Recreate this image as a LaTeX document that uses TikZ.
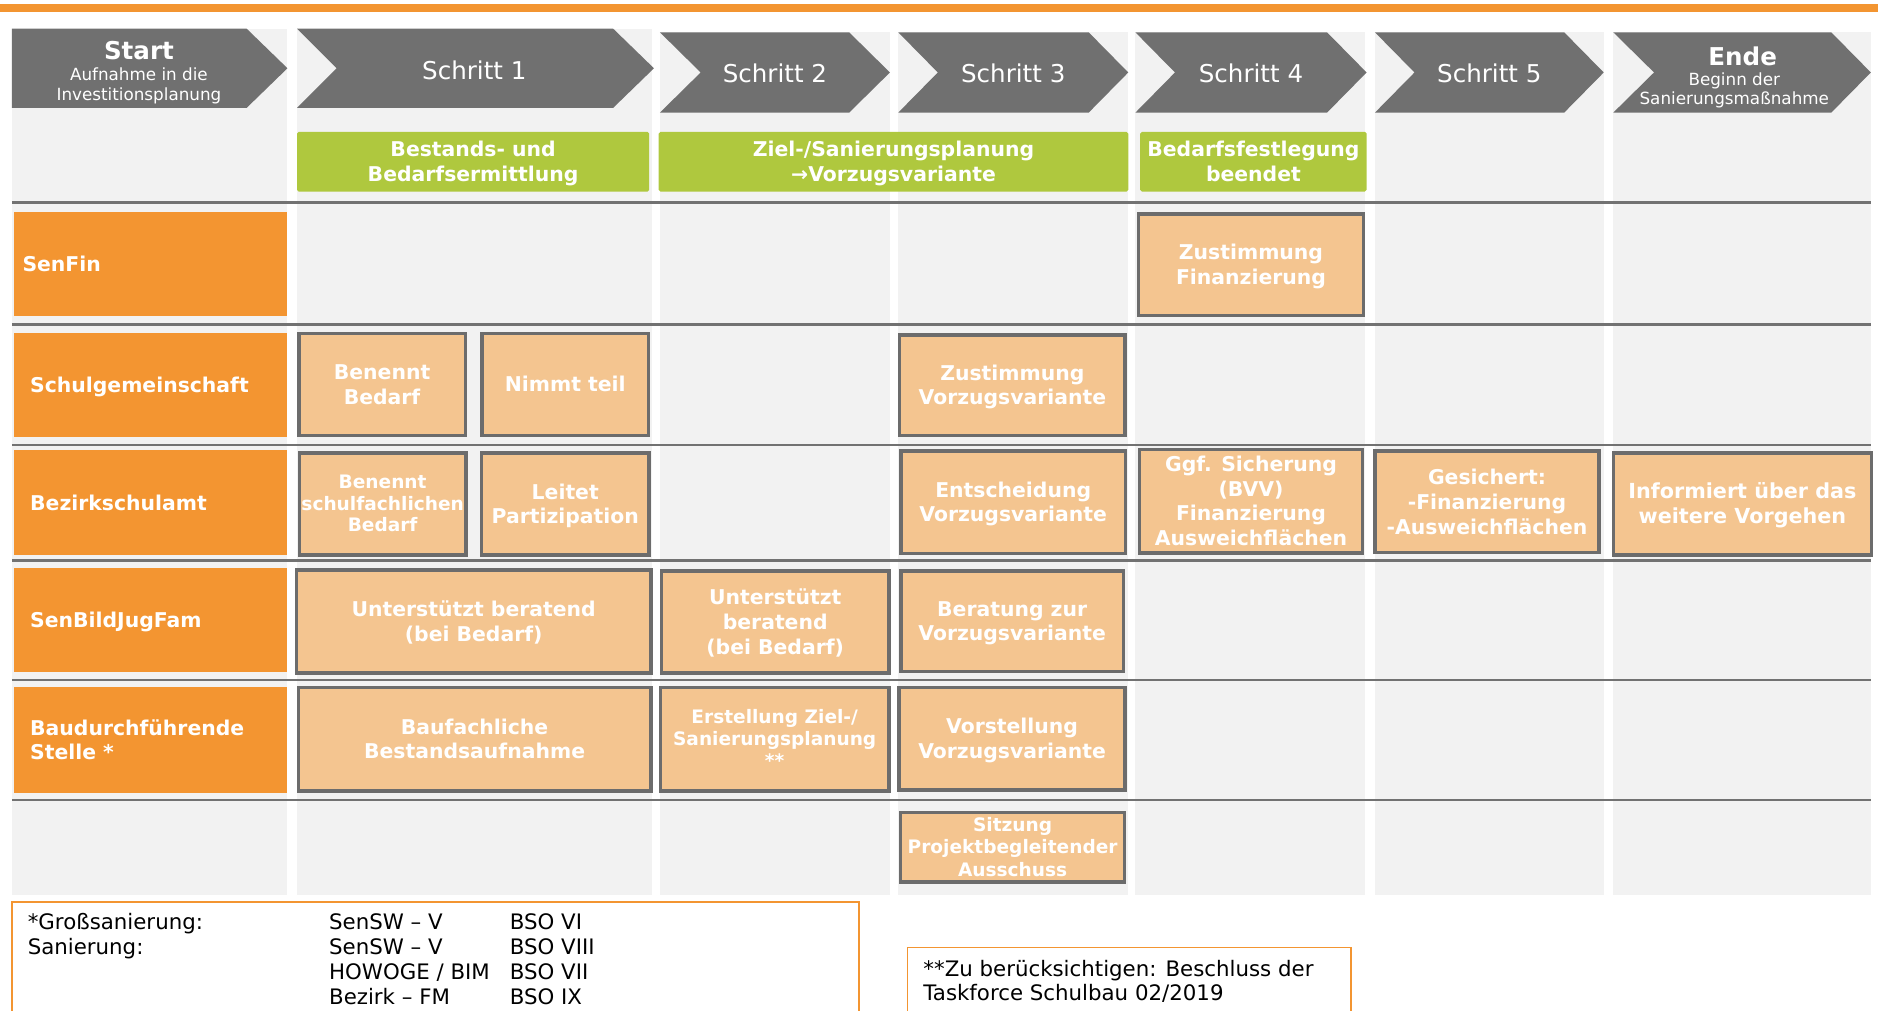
\documentclass[tikz,border=0pt]{standalone}
\usepackage{fontspec}
\setmainfont{DejaVu Sans}
\definecolor{barorange}{HTML}{F39531}
\definecolor{peach}{HTML}{F4C590}
\definecolor{boxline}{HTML}{6C6C6C}
\definecolor{chevgrey}{HTML}{707070}
\definecolor{limegreen}{HTML}{AFC83E}
\definecolor{colbg}{HTML}{F2F2F2}
\definecolor{sepline}{HTML}{727272}
\newcommand\fsz[2]{\fontsize{#1}{#2}\selectfont}
\newcommand\lns[2]{\begin{tabular}[t]{@{}#1@{}}#2\end{tabular}}
\newcommand\tbl[2]{\begin{tabular}[b]{@{}#1@{}}#2\end{tabular}}
% action box from outer corners (x1,y1)-(x2,y2)
\newcommand\abox[7][]{%
  \pgfmathsetmacro\abcx{(#3+#5)/2}%
  \pgfmathsetmacro\abcy{(#4+#6)/2}%
  \pgfmathsetmacro\abw{#5-#3-3}%
  \pgfmathsetmacro\abh{#6-#4-3}%
  \node[actbox,minimum width=\abw pt,minimum height=\abh pt,#1] (#2) at (\abcx,\abcy) {\tbl{c}{#7}};%
}
\begin{document}
\begin{tikzpicture}[x=1pt,y=-1pt,
  actbox/.style={draw=boxline,line width=3pt,fill=peach,text=white,
    font=\bfseries\fsz{17}{20.5},inner sep=0pt,text depth=2pt},
  smalltext/.style={font=\bfseries\fsz{15.5}{18}},
  lane/.style={fill=barorange,minimum width=228pt,inner sep=0pt},
  lanetext/.style={anchor=west,text=white,font=\bfseries\fsz{17}{20.5},
    inner sep=0pt,text depth=2pt},
  greenbox/.style={fill=limegreen,rounded corners=1.5pt,text=white,
    font=\bfseries\fsz{17}{20.5},inner sep=0pt,minimum height=50pt,
    text depth=2pt},
  chev/.style={fill=chevgrey},
  hdr/.style={text=white,font=\fsz{20.5}{24},anchor=base,inner sep=0pt},
  sep/.style={draw=sepline,line width=2pt},
  note/.style={draw=barorange,line width=1.5pt},
  notetext/.style={anchor=base west,inner sep=0pt,text=black,font=\fsz{17.8}{20.7}}
]
\useasboundingbox (0,0) rectangle (1568,844);
% top bar
\fill[barorange] (0,3) rectangle (1568,10);
% column backgrounds
\fill[colbg] (10,24) rectangle (240,747);
\fill[colbg] (248,24) rectangle (544,747);
\fill[colbg] (551,27) rectangle (743,747);
\fill[colbg] (750,27) rectangle (942,747);
\fill[colbg] (948,27) rectangle (1140,747);
\fill[colbg] (1148,27) rectangle (1339,747);
\fill[colbg] (1347,27) rectangle (1562,747);
% chevrons
\fill[chev] (10,24)--(206,24)--(240,57)--(206,90)--(10,90)--cycle;
\fill[chev] (248,24)--(512,24)--(546,57)--(512,90)--(248,90)--(281,57)--cycle;
\fill[chev] (551,27)--(709,27)--(743,60.5)--(709,94)--(551,94)--(585,60.5)--cycle;
\fill[chev] (750,27)--(909,27)--(942,60.5)--(909,94)--(750,94)--(783,60.5)--cycle;
\fill[chev] (948,27)--(1108,27)--(1141,60.5)--(1108,94)--(948,94)--(981,60.5)--cycle;
\fill[chev] (1148,27)--(1306,27)--(1339,60.5)--(1306,94)--(1148,94)--(1181,60.5)--cycle;
\fill[chev] (1347,27)--(1529,27)--(1562,60.5)--(1529,94)--(1347,94)--(1381,60.5)--cycle;
% header texts
\node[hdr,font=\bfseries\fsz{20.5}{24}] (start) at (116,49.5) {Start};
\node[hdr,font=\fsz{14}{16.2}] (startsub) at (116,67.3) {\lns{c}{Aufnahme in die\\Investitionsplanung}};
\node[hdr] (s1) at (396,66) {Schritt 1};
\node[hdr] (s2) at (647,69) {Schritt 2};
\node[hdr] (s3) at (846,69) {Schritt 3};
\node[hdr] (s4) at (1044.5,69) {Schritt 4};
\node[hdr] (s5) at (1243.5,69) {Schritt 5};
\node[hdr,font=\bfseries\fsz{20.5}{24}] (ende) at (1455,54.3) {Ende};
\node[hdr,font=\fsz{14}{16}] (endesub) at (1448,71) {\lns{c}{Beginn der\\Sanierungsmaßnahme}};
% separator lines
\foreach \yy in {169,271,371.5,468,567.5,668}
  \draw[sep] (10,\yy) -- (1562,\yy);
% green phase boxes
\node[greenbox,minimum width=294pt] (g1) at (395,135) {\tbl{c}{Bestands- und\\Bedarfsermittlung}};
\node[greenbox,minimum width=392pt] (g2) at (746,135) {\tbl{c}{Ziel-/Sanierungsplanung\\→Vorzugsvariante}};
\node[greenbox,minimum width=189pt] (g3) at (1046.5,135) {\tbl{c}{Bedarfsfestlegung\\beendet}};
% lanes
\node[lane,minimum height=87pt] (senfin) at (126,220.5) {};
\node[lane,minimum height=86.5pt] (schulg) at (126,321.25) {};
\node[lane,minimum height=87.5pt] (bezirk) at (126,419.75) {};
\node[lane,minimum height=86.5pt] (senbild) at (126,517.75) {};
\node[lane,minimum height=88pt] (baud) at (126,618) {};
\node[lanetext] (senfint) at (18.6,220.5) {\tbl{l}{SenFin}};
\node[lanetext] (schulgt) at (25,321.25) {\tbl{l}{Schulgemeinschaft}};
\node[lanetext] (bezirkt) at (25,419.75) {\tbl{l}{Bezirkschulamt}};
\node[lanetext] (senbildt) at (25,517.75) {\tbl{l}{SenBildJugFam}};
\node[lanetext] (baudt) at (25,618) {\tbl{l}{Baudurchführende\\Stelle *}};
% action boxes
\abox{zustfin}{949}{177}{1140}{265}{Zustimmung\\Finanzierung}
\abox{benbed}{248}{277}{390}{365}{Benennt\\Bedarf}
\abox{nimmt}{401}{277}{543}{365}{Nimmt teil}
\abox{zustvor}{749.5}{278}{941}{365}{Zustimmung\\Vorzugsvariante}
\abox[smalltext]{benschul}{248.5}{376.5}{390.5}{465}{Benennt\\schulfachlichen\\Bedarf}
\abox{leitet}{400.6}{376.5}{543.3}{465}{Leitet\\Partizipation}
\abox{entsch}{750.6}{375}{941.3}{463.5}{Entscheidung\\Vorzugsvariante}
\abox{ggf}{950}{373.7}{1139}{463.3}{Ggf. Sicherung\\(BVV)\\Finanzierung\\Ausweichflächen}
\abox[font=\bfseries\fsz{17}{21}]{gesich}{1146.6}{375}{1336.4}{462.7}{Gesichert:\\-Finanzierung\\-Ausweichflächen}
\abox[font=\bfseries\fsz{17.3}{21}]{inform}{1345.6}{376.5}{1564}{464.7}{Informiert über das\\weitere Vorgehen}
\abox[font=\bfseries\fsz{17}{21}]{unt1}{246}{474.4}{545}{563.5}{Unterstützt beratend\\(bei Bedarf)}
\abox[font=\bfseries\fsz{17}{21}]{unt2}{550.7}{475}{743.8}{563.5}{Unterstützt\\beratend\\(bei Bedarf)}
\abox{berat}{750.6}{475}{939.5}{562}{Beratung zur\\Vorzugsvariante}
\abox{baufach}{247.7}{572.6}{544.8}{661.7}{Baufachliche\\Bestandsaufnahme}
\abox[smalltext]{erst}{550}{572.6}{743.6}{661.7}{Erstellung Ziel-/\\Sanierungsplanung\\{}**}
\abox{vorst}{749}{572.6}{941}{661}{Vorstellung\\Vorzugsvariante}
\abox[font=\bfseries\fsz{15.5}{18.5}]{sitz}{750.4}{677}{940.5}{738}{Sitzung\\Projektbegleitender\\Ausschuss}
% footnotes
\draw[note] (10,844) -- (10,753) -- (717,753) -- (717,844);
\node[notetext] (fn1) at (23,776.3) {\begin{tabular}[t]{@{}p{251.6pt}@{}p{150.9pt}@{}l@{}}
*Großsanierung: & SenSW – V & BSO VI\\
Sanierung: & SenSW – V & BSO VIII\\
 & HOWOGE / BIM & BSO VII\\
 & Bezirk – FM & BSO IX
\end{tabular}};
\draw[note] (757.7,844) -- (757.7,791) -- (1128,791) -- (1128,844);
\node[notetext,font=\fsz{17.8}{20}] (fn2) at (770.8,815) {\lns{l}{**Zu berücksichtigen: Beschluss der\\Taskforce Schulbau 02/2019}};
\end{tikzpicture}
\end{document}
